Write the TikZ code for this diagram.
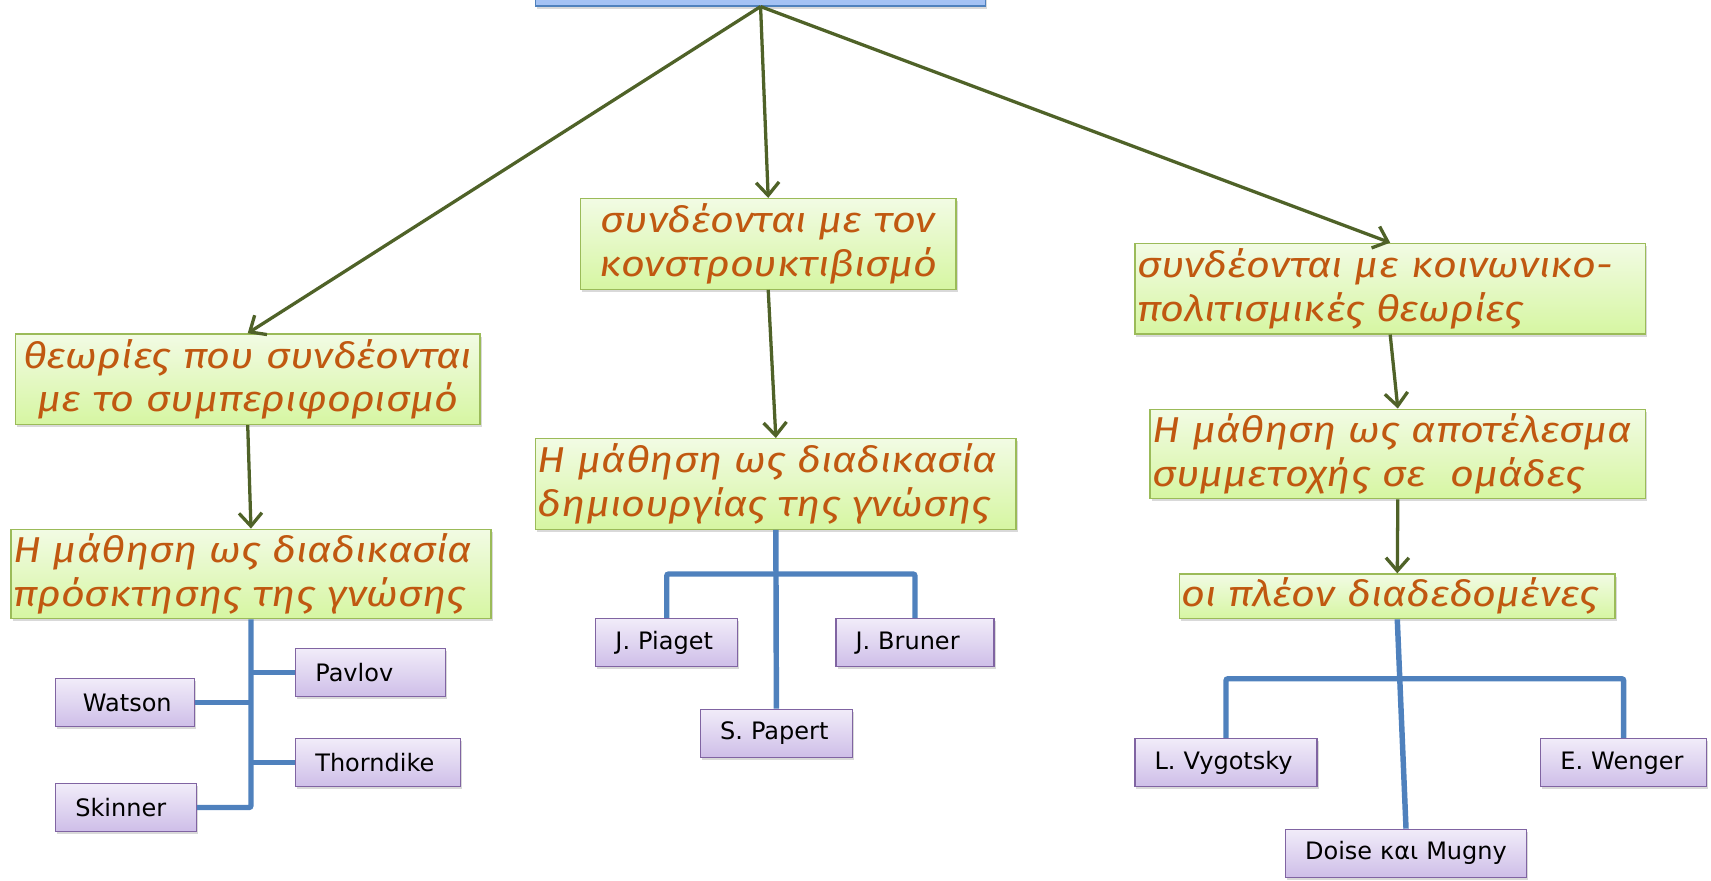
\documentclass[tikz,border=0pt]{standalone}
\usepackage{fontspec}
\newfontfamily\handfont{Fira Sans}[FakeStretch=1.15]
\newfontfamily\namefont{DejaVu Sans}
\usetikzlibrary{shadows,arrows.meta}
\definecolor{arrowgreen}{RGB}{79,98,40}
\definecolor{branchblue}{RGB}{79,129,189}
\definecolor{notegreen}{RGB}{155,187,89}
\definecolor{notetop}{RGB}{242,251,228}
\definecolor{notebottom}{RGB}{214,246,162}
\definecolor{nameline}{RGB}{128,100,162}
\definecolor{nametop}{RGB}{241,236,249}
\definecolor{namebottom}{RGB}{206,190,232}
\definecolor{headfill}{RGB}{164,194,244}
\definecolor{headline}{RGB}{79,129,189}
\definecolor{inkbrown}{RGB}{192,88,16}
\newcommand{\spreadline}[2]{\makebox[#1][s]{#2}}
\tikzset{
  >={Straight Barb[length=12pt,width=21pt]},
  notebox/.style={draw=notegreen, line width=1.2pt, top color=notetop, bottom color=notebottom,
    text=inkbrown, font=\handfont\itshape\fontsize{33}{40}\selectfont, inner sep=2pt,
    drop shadow={shadow xshift=1.5pt, shadow yshift=-2.5pt, opacity=0.3}},
  namebox/.style={draw=nameline, line width=1.2pt, top color=nametop, bottom color=namebottom,
    font=\namefont\fontsize{22}{26}\selectfont, align=left, inner xsep=18pt, minimum height=44pt,
    drop shadow={shadow xshift=1.5pt, shadow yshift=-2.5pt, opacity=0.3}},
  headbox/.style={draw=headline, line width=1.2pt, fill=headfill,
    drop shadow={shadow xshift=1.5pt, shadow yshift=-2.5pt, opacity=0.3}},
  arrowline/.style={arrowgreen, line width=3pt, ->},
  branch/.style={branchblue, line width=5pt, rounded corners=2pt},
}
\begin{document}
\begin{tikzpicture}[x=1pt, y=-1pt]
    \useasboundingbox (0,0) rectangle (1568,807);
    \clip (0,0) rectangle (1568,807);

    % the head box, cut off by the top edge
    \node[headbox, minimum width=412pt, minimum height=40pt, anchor=south] (head) at (697,6) {};

    % green boxes
    \node[notebox, text width=422pt, minimum height=83pt, align=center] (behav) at (227,347.5)
        {θεωρίες που συνδέονται\\με το συμπεριφορισμό};
    \node[notebox, text width=340pt, minimum height=83pt, align=center] (constr) at (704,223.5)
        {συνδέονται με τον\\κονστρουκτιβισμό};
    \node[notebox, text width=464pt, minimum height=83pt, align=left] (social) at (1274,264.5)
        {\spreadline{464pt}{συνδέονται με κοινωνικο-}\\πολιτισμικές θεωρίες};
    \node[notebox, text width=436pt, minimum height=82pt, align=left] (acquire) at (230,526)
        {\spreadline{436pt}{Η μάθηση ως διαδικασία}\\πρόσκτησης της γνώσης};
    \node[notebox, text width=436pt, minimum height=83pt, align=left] (create) at (711,443.5)
        {\spreadline{436pt}{Η μάθηση ως διαδικασία}\\δημιουργίας της γνώσης};
    \node[notebox, text width=450pt, minimum height=82pt, align=left] (partake) at (1281,416)
        {\spreadline{450pt}{Η μάθηση ως αποτέλεσμα}\\συμμετοχής σε~~ομάδες};
    \node[notebox, text width=395pt, minimum height=41pt, align=left] (common) at (1280.5,546.5)
        {οι πλέον διαδεδομένες};

    % purple name boxes
    \foreach \nm/\cx/\cy/\bw/\txt in {
        watson/114.5/644/127/\hspace*{7pt}Watson, skinner/115.5/740/129/Skinner,
        pavlov/339.5/616.5/137/Pavlov, thorndike/346.5/699/151/Thorndike,
        piaget/611/589/130/J. Piaget, bruner/838.5/589/145/J. Bruner,
        papert/711.5/672/139/S. Papert, vygotsky/1123.5/699/167/L. Vygotsky,
        wenger/1488/699/152/E. Wenger, doise/1288.5/782/221/Doise και Mugny} {
        \pgfmathsetmacro\tw{\bw-36}
        \node[namebox, text width=\tw pt] (\nm) at (\cx,\cy) {\txt};
    }

    % arrows
    \draw[arrowline] (head.south) -- (behav.north);
    \draw[arrowline] (head.south) -- (constr.north);
    \draw[arrowline] (head.south) -- (social.north);
    \draw[arrowline] (behav.south) -- (acquire.north);
    \draw[arrowline] (constr.south) -- (create.north);
    \draw[arrowline] (social.south) -- (partake.north);
    \draw[arrowline] (partake.south) -- (common.north);

    % blue branches
    \draw[branch] (acquire.south) |- (skinner.east);
    \draw[branch] (watson.east) -- (watson.east -| acquire.south);
    \draw[branch] (pavlov.west) -- (pavlov.west -| acquire.south);
    \draw[branch] (thorndike.west) -- (thorndike.west -| acquire.south);

    \coordinate (midbar) at (711,526);
    \draw[branch] (piaget.north) |- (midbar) -| (bruner.north);
    \draw[branch] (create.south) -- (papert.north);

    \coordinate (rightbar) at (1281,622);
    \draw[branch] (vygotsky.north) |- (rightbar) -| (wenger.north);
    \draw[branch] (common.south) -- (doise.north);
\end{tikzpicture}
\end{document}
